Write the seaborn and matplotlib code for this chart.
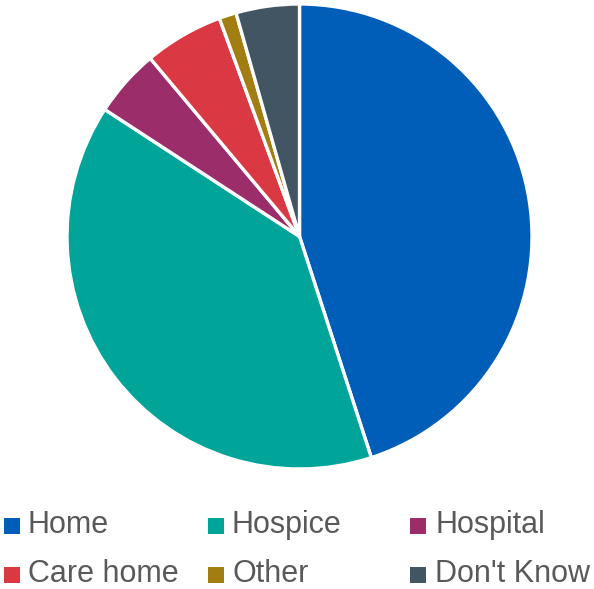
import matplotlib
matplotlib.use("Agg")
import matplotlib.pyplot as plt
from matplotlib.patches import Rectangle
import seaborn as sns

# Preferred place of death shares (%)
places = ["Home", "Hospice", "Hospital", "Care home", "Other", "Don't Know"]
shares = [45.0, 39.2, 4.7, 5.5, 1.2, 4.4]
colours = ["#005EB8", "#00A499", "#9A2D6A", "#DA3943", "#A27D11", "#425563"]

sns.set_theme(style="white")
plt.rcParams["font.family"] = ["Liberation Sans", "DejaVu Sans"]

W, H = 594, 589
fig = plt.figure(figsize=(W / 100, H / 100), dpi=100)
fig.patch.set_facecolor("white")

# Pie area in pixels: centre (299.5, 236.5), radius 232.5
cx, cy, r = 299.5, 236.5, 232.5
ax = fig.add_axes([(cx - r) / W, 1 - (cy + r) / H, 2 * r / W, 2 * r / H])
palette = sns.color_palette(colours)
ax.pie(shares, colors=palette, startangle=90, counterclock=False,
       wedgeprops=dict(edgecolor="white", linewidth=2.4, joinstyle="miter"))
ax.set_xlim(-1, 1)
ax.set_ylim(-1, 1)
ax.set_aspect("equal")
ax.axis("off")

# Legend laid out in three columns, row by row
col_box_x = [4, 208, 410]
col_text_x = [28, 232, 435]
row_base_y = [533, 582]
box = 16
for i, (name, c) in enumerate(zip(places, palette)):
    row, col = divmod(i, 3)
    by = row_base_y[row]
    fig.add_artist(Rectangle((col_box_x[col] / W, 1 - (by + 1) / H), box / W, box / H,
                             transform=fig.transFigure, facecolor=c, edgecolor="none"))
    fig.text(col_text_x[col] / W, 1 - by / H, name, fontsize=22, color="#595959",
             va="baseline", ha="left")

fig.savefig("out.png", dpi=100, facecolor="white")
